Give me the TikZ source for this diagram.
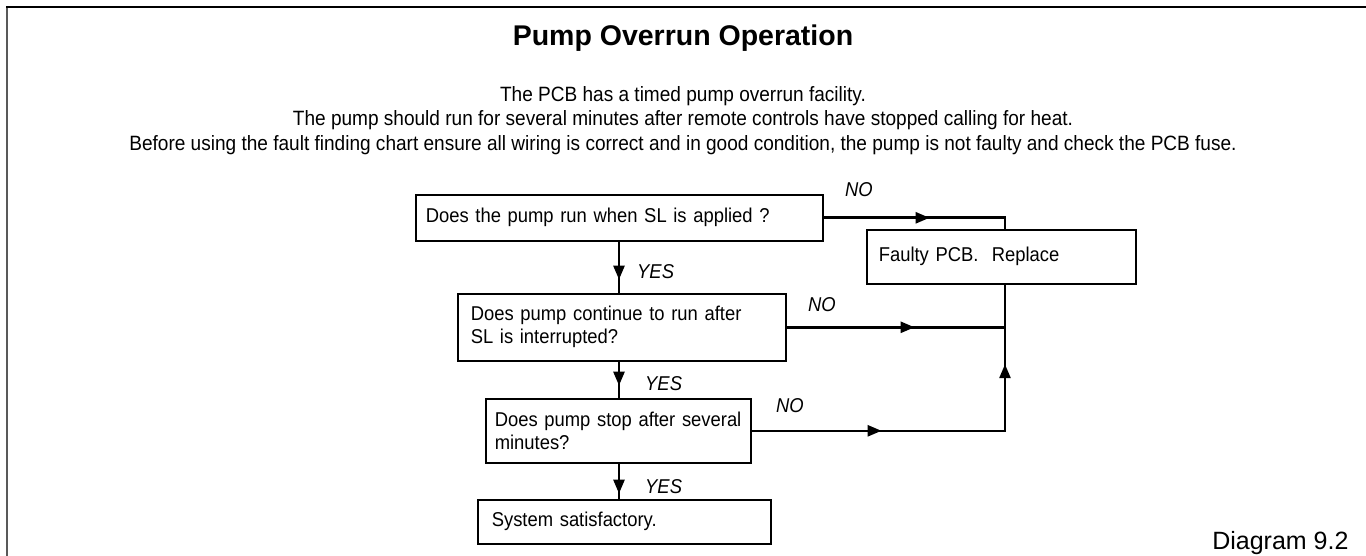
\documentclass[tikz,border=0pt]{standalone}
\usepackage{fontspec}
\setmainfont{Liberation Sans}
\newfontfamily\bodyfont[FakeStretch=0.92]{Liberation Sans}
\usepackage{tikz}
\usetikzlibrary{arrows.meta, positioning, calc, decorations.markings}

\begin{document}
\begin{tikzpicture}[
    x=1pt, y=-1pt,
    base/.style={font=\fontsize{20pt}{23pt}\selectfont\bodyfont},
    qbox/.style={base, draw, line width=1.6pt, align=left, inner xsep=10pt, inner ysep=0pt, anchor=north west},
    lab/.style={font=\fontsize{20pt}{23pt}\selectfont\bodyfont\itshape, anchor=west, inner sep=0pt},
    flow/.style={line width=2.6pt},
    tipat/.style={postaction={decorate}, decoration={markings, mark=at position #1 with {\arrow{Triangle[length=14pt, width=11pt]}}}},
    tipstwo/.style 2 args={postaction={decorate}, decoration={markings,
        mark=at position #1 with {\arrow{Triangle[length=14pt, width=11pt]}},
        mark=at position #2 with {\arrow{Triangle[length=14pt, width=11pt]}}}}
]
    \useasboundingbox (0,0) rectangle (1366,556);

    % --- FRAME ---
    \draw[line width=2pt, black!65] (7,556) -- (7,7);
    \draw[line width=2pt] (6,7) -- (1366,7);

    % --- HEADING ---
    \node[font=\fontsize{28.5pt}{32pt}\selectfont\bfseries, anchor=base] (title) at (683,46) {Pump Overrun Operation};
    \node[font=\fontsize{20.7pt}{24.5pt}\selectfont\bodyfont, align=center, anchor=north, inner sep=0pt] (intro) at (683,86) {The PCB has a timed pump overrun facility.\\
        The pump should run for several minutes after remote controls have stopped calling for heat.\\
        Before using the fault finding chart ensure all wiring is correct and in good condition, the pump is not faulty and check the PCB fuse.};

    % --- QUESTIONS ---
    \node[qbox, text width=387pt, minimum height=46pt] (run) at (415,194) {Does the pump run when SL is applied ?};
    \node[qbox, inner xsep=13pt, text width=302pt, minimum height=67pt] (cont) at (457,293) {Does pump continue to run after\\ SL is interrupted?};
    \node[qbox, inner xsep=9pt, text width=247pt, minimum height=64pt] (stop) at (485,398) {\mbox{Does pump stop after several}\\ minutes?};
    \node[qbox, inner xsep=14pt, text width=265pt, minimum height=44pt] (ok) at (477,499) {System satisfactory.};
    \node[qbox, inner xsep=12pt, text width=245pt, minimum height=54pt] (fault) at (866,229) {Faulty PCB.\ \ Replace};

    \coordinate (spine) at (619,0);
    \coordinate (trunk) at (1005,0);

    % --- YES path ---
    \draw[flow, tipat=38pt] (run.south -| spine) -- (cont.north -| spine);
    \draw[flow, tipat=24pt] (cont.south -| spine) -- (stop.north -| spine);
    \draw[flow, tipat=30pt] (stop.south -| spine) -- (ok.north -| spine);

    \node[lab] (yes1) at (637,272) {YES};
    \node[lab] (yes2) at (645,384) {YES};
    \node[lab] (yes3) at (645,487) {YES};

    % --- NO path ---
    \draw[flow, tipat=106pt] (run.east) -- (run.east -| trunk) -- (trunk |- fault.north);
    \draw[flow, tipat=128pt] (cont.east) -- (cont.east -| trunk);
    \draw[flow, tipstwo={130pt}{320pt}] (stop.east) -- (stop.east -| trunk) -- (trunk |- fault.south);

    \node[lab] (no1) at (845,190) {NO};
    \node[lab] (no2) at (808,305) {NO};
    \node[lab] (no3) at (776,406) {NO};

    \node[font=\fontsize{25pt}{28pt}\selectfont, anchor=base east] (diag) at (1352,549) {Diagram 9.2};

\end{tikzpicture}
\end{document}
